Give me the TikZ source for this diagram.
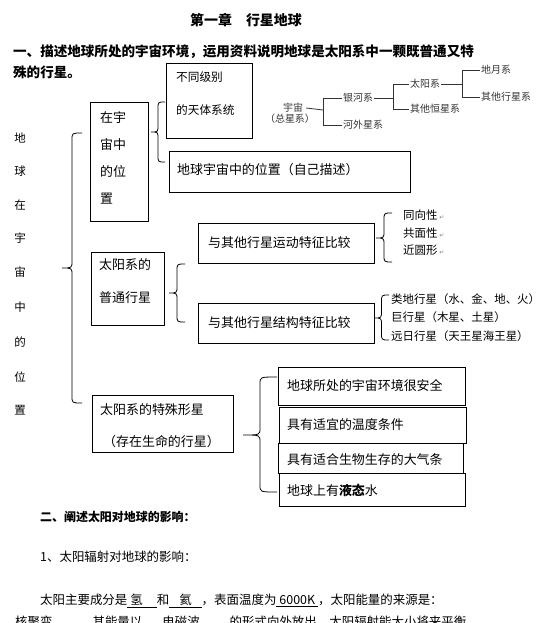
\documentclass[tikz,border=0pt]{standalone}
\usepackage{fontspec}
\setmainfont{Noto Sans CJK SC}
\newfontfamily\symfont{DejaVu Sans}
\newcommand\fs[1]{\fontsize{#1}{#1}\selectfont}
\newcommand\mybrace[5]{%
  \pgfmathsetmacro\bxm{(#1+#2)/2}%
  \pgfmathsetmacro\br{min(7,(#4-#3)/3)}%
  \draw[brc] (#1,#3) .. controls (\bxm,#3) .. (\bxm,#3+\br) -- (\bxm,#4-\br)
    .. controls (\bxm,#4) .. (#2,#4) .. controls (\bxm,#4) .. (\bxm,#4+\br)
    -- (\bxm,#5-\br) .. controls (\bxm,#5) .. (#1,#5);}
\tikzset{
  box/.style={draw, line width=1bp, inner sep=0, anchor=north west},
  txt/.style={inner sep=0, anchor=west, font=\fs{13}},
  hier/.style={inner sep=0, anchor=west, font=\fs{10}, text=black!80},
  hline/.style={line width=0.8bp, black!80},
  lst/.style={inner sep=0, anchor=west, font=\fs{11.5}},
  brc/.style={line width=0.8bp}
}
\begin{document}
\begin{tikzpicture}[x=1bp,y=-1bp]
\useasboundingbox (0,0) rectangle (551,623);
% headings
\node[inner sep=0, font=\bfseries\fs{14}] (title) at (246,20) {第一章　行星地球};
\node[txt, font=\bfseries\fs{13.6}] (h1a) at (13,52) {一、描述地球所处的宇宙环境，运用资料说明地球是太阳系中一颗既普通又特};
\node[txt, font=\bfseries\fs{13.6}] (h1b) at (13,72) {殊的行星。};
% vertical label
\foreach \c/\y in {地/138,球/171,在/205,宇/238,宙/272,中/307,的/342,位/377,置/410}
  \node[inner sep=0, font=\fs{11.5}] (v\y) at (20,\y) {\c};
% boxes
\node[box, minimum width=86bp, minimum height=75bp] (bA) at (166,63) {};
\node[txt, font=\fs{11.7}] (tA1) at (176,77) {不同级别};
\node[txt, font=\fs{11.7}] (tA2) at (176,110) {的天体系统};
\node[box, minimum width=241bp, minimum height=41bp] (bB) at (169,151) {};
\node[txt] (tB) at (177,170) {地球宇宙中的位置（自己描述）};
\node[box, minimum width=58bp, minimum height=119bp] (bC) at (90,102) {};
\node[txt] (tC1) at (100,118) {在宇};
\node[txt] (tC2) at (100,145) {宙中};
\node[txt] (tC3) at (100,172) {的位};
\node[txt] (tC4) at (100,199) {置};
\node[box, minimum width=73bp, minimum height=73bp] (bD) at (91,252) {};
\node[txt] (tD1) at (99,265) {太阳系的};
\node[txt] (tD2) at (99,298) {普通行星};
\node[box, minimum width=176bp, minimum height=40bp] (bE) at (198,223) {};
\node[txt] (tE) at (208,243) {与其他行星运动特征比较};
\node[box, minimum width=176bp, minimum height=40bp] (bF) at (198,303) {};
\node[txt] (tF) at (208,323) {与其他行星结构特征比较};
\node[box, minimum width=141bp, minimum height=57bp] (bG) at (92,395) {};
\node[txt] (tG1) at (100,410) {太阳系的特殊形星};
\node[txt] (tG2) at (103,442) {（存在生命的行星）};
\node[box, minimum width=187bp, minimum height=38bp] (bH1) at (278,367) {};
\node[txt] (tH1) at (287,386) {地球所处的宇宙环境很安全};
\node[box, minimum width=187bp, minimum height=36bp] (bH2) at (279,407) {};
\node[txt] (tH2) at (287,425) {具有适宜的温度条件};
\node[box, minimum width=185bp, minimum height=30bp] (bH3) at (278,443) {};
\node[txt] (tH3) at (287,460) {具有适合生物生存的大气条};
\node[box, minimum width=186bp, minimum height=33bp] (bH4) at (279,473) {};
\node[txt] (tH4) at (287,490) {地球上有\textbf{液态}水};
% lists
\node[lst] (l1) at (403,215) {同向性\,{\symfont\fs{6}\color{black!50}↵}};
\node[lst] (l2) at (403,233) {共面性\,{\symfont\fs{6}\color{black!50}↵}};
\node[lst] (l3) at (403,250) {近圆形\,{\symfont\fs{6}\color{black!50}↵}};
\node[lst] (l4) at (391,299) {类地行星（水、金、地、火）};
\node[lst] (l5) at (391,317) {巨行星（木星、土星）};
\node[lst] (l6) at (391,336) {远日行星（天王星海王星）};
% braces
\mybrace{82}{62}{133}{268}{403}
\mybrace{165}{151}{102}{132}{162}
\mybrace{185}{169}{264}{293}{322}
\mybrace{392}{376}{213}{238}{262}
\mybrace{389}{374}{295}{318}{340}
\mybrace{277}{243}{377}{435}{492}
% hierarchy
\node[inner sep=0, font=\fs{10}, text=black!80] (yz) at (293,108) {宇宙};
\node[inner sep=0, font=\fs{10}, text=black!80] (zxx) at (290,119) {（总星系）};
\node[hier] (yhx) at (343,98) {银河系};
\node[hier] (hwx) at (343,125) {河外星系};
\node[hier] (tyx) at (410,84) {太阳系};
\node[hier] (qhx) at (410,109) {其他恒星系};
\node[hier] (dyx) at (481,70) {地月系};
\node[hier] (qxx) at (481,97) {其他行星系};
\coordinate (j1) at (323,110);
\coordinate (j2) at (393,98);
\coordinate (j3) at (462,84);
\draw[hline] ([xshift=3bp]yz.east) -- (j1);
\draw[hline] ([xshift=-1bp]yhx.west) -| (323,125) -- ([xshift=-1bp]hwx.west);
\draw[hline] ([xshift=1bp]yhx.east) -- (j2);
\draw[hline] ([xshift=-1bp]tyx.west) -| (393,109) -- ([xshift=-1bp]qhx.west);
\draw[hline] ([xshift=1bp]tyx.east) -- (j3);
\draw[hline] ([xshift=-1bp]dyx.west) -| (462,97) -- ([xshift=-1bp]qxx.west);
% section two
\node[txt, font=\bfseries\fs{12}] (s2) at (40,517) {二、阐述太阳对地球的影响：};
\node[txt, font=\fs{12.5}] (s21) at (40,557) {1、太阳辐射对地球的影响：};
\node[txt, font=\fs{12.5}] (s22) at (40,601) {太阳主要成分是\underline{\hspace{3bp}氢\hspace{14bp}}和\underline{\hspace{10bp}氦\hspace{10bp}}，表面温度为\underline{\hspace{3bp}6000K\hspace{3bp}}，太阳能量的来源是：};
\node[txt, font=\fs{12.5}] (s23) at (15,622) {核聚变\hspace{40bp}其能量以\hspace{20bp}电磁波\hspace{30bp}的形式向外放出，太阳辐射能大小将来平衡};
\end{tikzpicture}
\end{document}
